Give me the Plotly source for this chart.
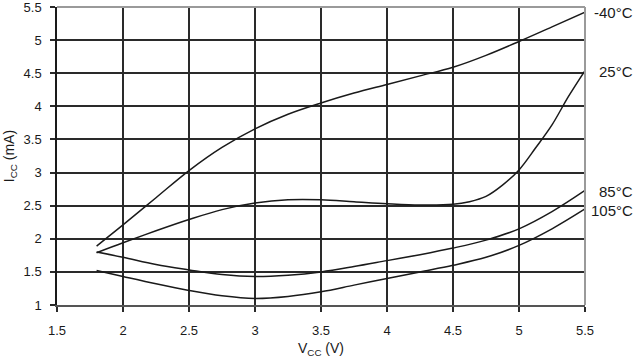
import plotly.graph_objects as go

vcc = [1.8, 2.0, 2.25, 2.5, 2.75, 3.0, 3.25, 3.5, 3.75, 4.0, 4.25, 4.5, 4.75, 5.0, 5.25, 5.5]
icc_m40 = [1.89, 2.21, 2.62, 3.03, 3.38, 3.66, 3.88, 4.05, 4.2, 4.33, 4.46, 4.59, 4.77, 4.98, 5.2, 5.42]

vcc_25 = [1.8, 2.0, 2.25, 2.5, 2.75, 3.0, 3.25, 3.5, 3.75, 4.0, 4.25, 4.5, 4.625, 4.75, 4.875, 5.0, 5.125, 5.25, 5.375, 5.5]
icc_25 = [1.79, 1.94, 2.12, 2.29, 2.44, 2.54, 2.59, 2.59, 2.56, 2.53, 2.51, 2.52, 2.56, 2.64, 2.81, 3.04, 3.37, 3.72, 4.15, 4.54]

icc_85 = [1.8, 1.72, 1.61, 1.53, 1.46, 1.43, 1.45, 1.5, 1.58, 1.67, 1.76, 1.86, 1.98, 2.15, 2.41, 2.73]
icc_105 = [1.52, 1.43, 1.32, 1.22, 1.14, 1.1, 1.13, 1.2, 1.3, 1.4, 1.5, 1.6, 1.72, 1.9, 2.15, 2.45]

labels = ["-40°C", "25°C", "85°C", "105°C"]
label_py = [13, 72, 191, 210]

x_ticks = [1.5, 2, 2.5, 3, 3.5, 4, 4.5, 5, 5.5]
y_ticks = [1, 1.5, 2, 2.5, 3, 3.5, 4, 4.5, 5, 5.5]

fig = go.Figure()
line = dict(color="#1a1a1a", width=1.5, shape="spline", smoothing=1.0)
for xs, ys in [(vcc, icc_m40), (vcc_25, icc_25), (vcc, icc_85), (vcc, icc_105)]:
    fig.add_trace(go.Scatter(x=xs, y=ys, mode="lines", line=line, showlegend=False, hoverinfo="skip"))

W, H = 641, 358
L, R, T, B = 57, 585, 7, 305
for lab, py in zip(labels, label_py):
    fig.add_annotation(text=lab, xref="paper", yref="paper",
                       x=(635 - L) / (R - L), y=(B - py) / (B - T),
                       xanchor="right", yanchor="middle", showarrow=False,
                       font=dict(family="Liberation Sans, Arial", size=15, color="#1a1a1a"))

# top and right gray borders
fig.add_shape(type="line", xref="paper", yref="paper", x0=0, x1=1, y0=1, y1=1,
              line=dict(color="#9a9a9a", width=2), layer="above")
fig.add_shape(type="line", xref="paper", yref="paper", x0=1, x1=1, y0=0, y1=1,
              line=dict(color="#9a9a9a", width=2), layer="above")

fig.update_layout(
    width=W, height=H,
    margin=dict(l=L, r=W - R, t=T, b=H - B, autoexpand=False),
    paper_bgcolor="white", plot_bgcolor="white",
    font=dict(family="Liberation Sans, Arial", size=13, color="#1a1a1a"),
    xaxis=dict(range=[1.5, 5.5], tickvals=x_ticks, ticktext=[f"{v:g}" for v in x_ticks],
               showgrid=True, gridcolor="#2a2a2a", gridwidth=1.5,
               showline=True, linecolor="#555555", linewidth=2,
               ticks="outside", ticklen=5, tickcolor="#2a2a2a", tickwidth=1.5,
               zeroline=False, tickfont=dict(size=13), ticklabelstandoff=7,
               ticklabeloverflow="allow", automargin=False,
               title=dict(text="V<sub>CC</sub> (V)", standoff=20, font=dict(size=14))),
    yaxis=dict(range=[1, 5.5], tickvals=y_ticks, ticktext=[f"{v:g}" for v in y_ticks],
               showgrid=True, gridcolor="#2a2a2a", gridwidth=1.5,
               showline=True, linecolor="#1a1a1a", linewidth=1.5,
               ticks="outside", ticklen=5, tickcolor="#2a2a2a", tickwidth=1.5,
               zeroline=False, ticklabelstandoff=6, tickfont=dict(size=13),
               ticklabeloverflow="allow", automargin=False,
               title=dict(text="I<sub>CC</sub> (mA)", standoff=6, font=dict(size=14))),
)

fig.write_html("out.html", config={"displayModeBar": False},
               post_script="document.body.style.margin='0';document.body.style.padding='0';")
